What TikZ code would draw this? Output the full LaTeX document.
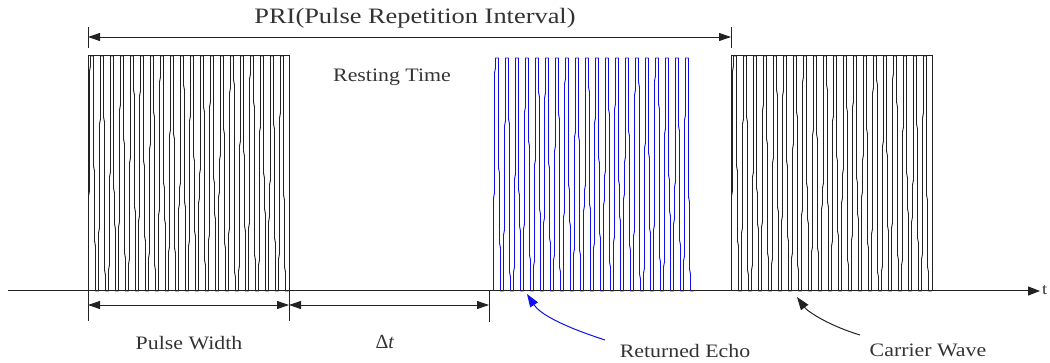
\documentclass[tikz,border=0pt]{standalone}
\usepackage{fontspec}
\setmainfont{Liberation Serif}
\newfontfamily\lblfont[FakeStretch=1.15]{Liberation Serif}
\newfontfamily\prifont[FakeStretch=1.2]{Liberation Serif}
\usetikzlibrary{arrows.meta}
\definecolor{ink}{HTML}{222222}
\definecolor{txt}{HTML}{333333}
\definecolor{echoblue}{HTML}{1010F0}
\newcommand\pulsewave[3]{%
  \draw[#2, line width=0.9pt, line join=round] (#1+0.5,291)
  \foreach \i [evaluate=\i as \ha using {#3+15+mod(\i*53,120)},
               evaluate=\i as \hc using {#3+140+mod(\i*37,80)},
               evaluate=\i as \hb using {#3+20+mod(\i*71+90,120)},
               evaluate=\i as \hd using {#3+145+mod(\i*29+40,75)}] in {0,...,19} {
    -- ({#1+0.5+\i*10},\hc) -- ({#1+1.5+\i*10},\hc-5)
    -- ({#1+1.5+\i*10},\ha) -- ({#1+2.5+\i*10},\ha-5) -- ({#1+2.5+\i*10},#3)
    -- ({#1+5.5+\i*10},#3) -- ({#1+5.5+\i*10},\hb) -- ({#1+6.5+\i*10},\hb+5)
    -- ({#1+6.5+\i*10},\hd) -- ({#1+7.5+\i*10},\hd+5)
    -- ({#1+7.5+\i*10},291) -- ({#1+10.5+\i*10},291)
  };
}
\begin{document}
\begin{tikzpicture}[x=1pt,y=-1pt,
  dim/.style={ink, line width=0.9pt, {Triangle[length=12pt,width=8pt]}-{Triangle[length=12pt,width=8pt]}},
  tick/.style={ink, line width=0.9pt},
  lbl/.style={text=txt, font=\lblfont\fontsize{19}{21}\selectfont},
  pointer/.style={line width=1pt, -{Triangle[length=13pt,width=9pt]}},
  frame/.style={ink, line width=1pt}]
\useasboundingbox (0,0) rectangle (1050,363);
% waveforms
\pulsewave{88}{ink}{56}
\pulsewave{493}{echoblue}{58}
\pulsewave{731}{ink}{56}
\draw[frame] (88,56) rectangle (289,291);
\draw[frame] (731,56) rectangle (932,291);
% time axis
\coordinate (axL) at (8,291);
\coordinate (axR) at (1040,291);
\draw[ink, line width=1pt, -{Triangle[length=12pt,width=9pt]}] (axL) -- (axR);
\node[anchor=west, text=txt, font=\lblfont\fontsize{16}{18}\selectfont, inner sep=1pt] (t) at (1041,290) {t};
% PRI
\coordinate (priL) at (88,37);
\coordinate (priR) at (731,37);
\draw[tick] (88,27) -- (88,48);
\draw[tick] (731,27) -- (731,48);
\draw[dim] (priL) -- (priR);
\node[text=txt, font=\prifont\fontsize{22}{24}\selectfont] (pri) at (415,18) {PRI(Pulse Repetition Interval)};
\node[lbl] (rest) at (392,77) {Resting Time};
% pulse width and delta t
\coordinate (pwL) at (88,305);
\coordinate (pwR) at (289,305);
\coordinate (dtR) at (489,305);
\draw[tick] (88,291) -- (88,321);
\draw[tick] (289,291) -- (289,321);
\draw[tick] (489,291) -- (489,322);
\draw[dim] (pwL) -- (pwR);
\draw[dim] (pwR) -- (dtR);
\node[lbl] (pw) at (189,343) {Pulse Width};
\node[text=txt, font=\fontsize{20}{22}\selectfont] (dt) at (385,342) {Δ\textit{t}};
% pointers
\node[lbl] (echo) at (685,351) {Returned Echo};
\coordinate (echoS) at (605,340);
\coordinate (echoT) at (527,294);
\draw[pointer, echoblue] (echoS) .. controls (562,326) and (540,314) .. (echoT);
\node[lbl] (carrier) at (928,350) {Carrier Wave};
\coordinate (carS) at (860,335);
\coordinate (carT) at (797,297);
\draw[pointer, ink] (carS) .. controls (830,326) and (808,312) .. (carT);
\end{tikzpicture}
\end{document}
